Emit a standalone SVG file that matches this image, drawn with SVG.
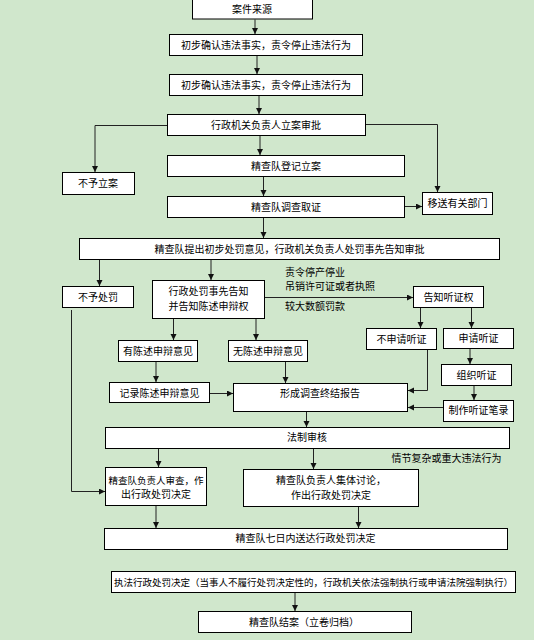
<svg xmlns="http://www.w3.org/2000/svg" width="534" height="640" viewBox="0 0 534 640">
<defs>
<style>
.b{fill:#fff;stroke:#000;stroke-width:1}
.t{font-family:"Liberation Sans","Noto Sans CJK SC",sans-serif;font-size:10px;fill:#000;text-anchor:middle}
.l{font-family:"Liberation Sans","Noto Sans CJK SC",sans-serif;font-size:10px;fill:#000}
.c{fill:none;stroke:#222;stroke-width:1;marker-end:url(#a)}
.p{fill:none;stroke:#222;stroke-width:1}
</style>
<marker id="a" markerUnits="userSpaceOnUse" markerWidth="7" markerHeight="7" refX="6" refY="3" orient="auto">
<path d="M0,0 L6,3 L0,6 z" fill="#111"/>
</marker>
</defs>
<rect width="534" height="640" fill="#d0e7cc"/>
<g id="connectors">
<path class="c" d="M255,19.5 V34"/>
<path class="c" d="M257,55.5 V74"/>
<path class="c" d="M259,95.5 V114"/>
<path class="c" d="M167.5,125.5 H95 V172"/>
<path class="c" d="M365.5,124.5 H437.5 V192"/>
<path class="c" d="M260,135.5 V155"/>
<path class="c" d="M263.5,176.5 V196"/>
<path class="c" d="M404.5,206.5 H422"/>
<path class="c" d="M263.5,217.5 V238"/>
<path class="c" d="M99.5,259.5 V286"/>
<path class="c" d="M211,259.5 V280"/>
<path class="c" d="M264.5,297.5 H413"/>
<path class="c" d="M420.5,307.5 V328"/>
<path class="c" d="M471.5,307.5 V328"/>
<path class="c" d="M173.5,318.5 V340"/>
<path class="c" d="M256,318.5 V340"/>
<path class="c" d="M156,361.5 V382"/>
<path class="c" d="M285.5,361.5 V383"/>
<path class="c" d="M210,393.5 H233"/>
<path class="c" d="M427.5,349.5 V390.5 H408"/>
<path class="c" d="M470,348.5 V364"/>
<path class="c" d="M474,385.5 V400"/>
<path class="c" d="M443.5,407.5 H408"/>
<path class="c" d="M306.5,412 V427"/>
<path class="c" d="M158.5,448.5 V467"/>
<path class="c" d="M313.5,448.5 V469"/>
<path class="c" d="M71.5,310 V491.5 H105"/>
<path class="c" d="M156,505.5 V528"/>
<path class="c" d="M358.5,507 V528"/>
<path class="c" d="M295,592.5 V611"/>
</g>
<g id="n1"><rect class="b" x="192.5" y="-1" width="120" height="20"/><text class="t" x="252" y="13">案件来源</text></g>
<g id="n2"><rect class="b" x="169.5" y="34.5" width="193" height="21"/><text class="t" x="266" y="48.5">初步确认违法事实，责令停止违法行为</text></g>
<g id="n3"><rect class="b" x="169.5" y="74.5" width="193" height="21"/><text class="t" x="266" y="88.5">初步确认违法事实，责令停止违法行为</text></g>
<g id="n4"><rect class="b" x="167.5" y="114.5" width="198" height="21"/><text class="t" x="266" y="128.5">行政机关负责人立案审批</text></g>
<g id="n5"><rect class="b" x="62.5" y="172.5" width="72" height="22"/><text class="t" x="98" y="187">不予立案</text></g>
<g id="n6"><rect class="b" x="167.5" y="155.5" width="237" height="21"/><text class="t" x="286" y="169.5">精查队登记立案</text></g>
<g id="n7"><rect class="b" x="167.5" y="196.5" width="237" height="21"/><text class="t" x="286" y="210.5">精查队调查取证</text></g>
<g id="n8"><rect class="b" x="422.5" y="192.5" width="70" height="22"/><text class="t" x="457.5" y="207">移送有关部门</text></g>
<g id="n9"><rect class="b" x="79.5" y="238.5" width="420" height="21"/><text class="t" x="289.5" y="252.5">精查队提出初步处罚意见，行政机关负责人处罚事先告知审批</text></g>
<g id="n10"><rect class="b" x="62.5" y="286.5" width="71" height="21"/><text class="t" x="98" y="300.5">不予处罚</text></g>
<g id="n11"><rect class="b" x="152.5" y="280.5" width="112" height="38"/><text class="t" x="208.5" y="295">行政处罚事先告知</text><text class="t" x="208.5" y="310">并告知陈述申辩权</text></g>
<g id="labels1">
<text class="l" x="285" y="276">责令停产停业</text>
<text class="l" x="285" y="290">吊销许可证或者执照</text>
<text class="l" x="285" y="310">较大数额罚款</text>
</g>
<g id="n12"><rect class="b" x="413.5" y="286.5" width="70" height="21"/><text class="t" x="448.5" y="300.5">告知听证权</text></g>
<g id="n13"><rect class="b" x="366.5" y="328.5" width="70" height="21"/><text class="t" x="401.5" y="342.5">不申请听证</text></g>
<g id="n14"><rect class="b" x="443.5" y="328.5" width="70" height="20"/><text class="t" x="478.5" y="342">申请听证</text></g>
<g id="n15"><rect class="b" x="118.5" y="340.5" width="79" height="21"/><text class="t" x="158" y="354.5">有陈述申辩意见</text></g>
<g id="n16"><rect class="b" x="228.5" y="340.5" width="79" height="21"/><text class="t" x="268" y="354.5">无陈述申辩意见</text></g>
<g id="n17"><rect class="b" x="109.5" y="382.5" width="100" height="20"/><text class="t" x="159.5" y="396.5">记录陈述申辩意见</text></g>
<g id="n18"><rect class="b" x="233.5" y="383.5" width="174" height="28"/><text class="t" x="320" y="397">形成调查终结报告</text></g>
<g id="n19"><rect class="b" x="441.5" y="364.5" width="70" height="21"/><text class="t" x="476.5" y="378.5">组织听证</text></g>
<g id="n20"><rect class="b" x="443.5" y="400.5" width="70" height="21"/><text class="t" x="478.5" y="414">制作听证笔录</text></g>
<g id="n21"><rect class="b" x="105.5" y="427.5" width="404" height="21"/><text class="t" x="307" y="441">法制审核</text></g>
<text class="l" x="391.5" y="462">情节复杂或重大违法行为</text>
<g id="n22"><rect class="b" x="105.5" y="467.5" width="101" height="38"/><text class="t" x="156" y="483.5" style="font-size:9.5px">精查队负责人审查，作</text><text class="t" x="156" y="498">出行政处罚决定</text></g>
<g id="n23"><rect class="b" x="243.5" y="469.5" width="175" height="37"/><text class="t" x="331" y="483.5">精查队负责人集体讨论，</text><text class="t" x="331" y="499">作出行政处罚决定</text></g>
<g id="n24"><rect class="b" x="104.5" y="528.5" width="403" height="21"/><text class="t" x="305.5" y="542">精查队七日内送达行政处罚决定</text></g>
<g id="n25"><rect class="b" x="111.5" y="571.5" width="404" height="21"/><text class="t" x="313.5" y="585.5" style="font-size:9.5px">执法行政处罚决定（当事人不履行处罚决定性的，行政机关依法强制执行或申请法院强制执行）</text></g>
<g id="n26"><rect class="b" x="198.5" y="611.5" width="213" height="21"/><text class="t" x="304" y="625.5">精查队结案（立卷归档）</text></g>
</svg>
